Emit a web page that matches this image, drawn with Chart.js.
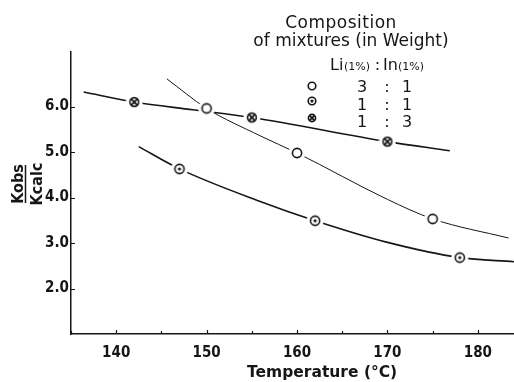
<!DOCTYPE html>
<html>
<head>
<meta charset="utf-8">
<script src="https://cdn.jsdelivr.net/npm/chart.js@4/dist/chart.umd.min.js"></script>
<style>
  html, body { margin: 0; padding: 0; background: #fff; }
  #wrap { width: 514px; height: 382px; }
</style>
</head>
<body>
<div id="wrap"><canvas id="chart" width="514" height="382"></canvas></div>
<script>
// measured points, K_obs / K_calc against temperature (deg C)
const temps31 = [150, 160, 175];
const ratio31 = [5.96, 4.98, 3.53];
const temps11 = [147, 162, 178];
const ratio11 = [4.63, 3.49, 2.68];
const temps13 = [142, 155, 170];
const ratio13 = [6.10, 5.76, 5.23];

// hand-drawn fitted curves
const curve31T = [145.6, 150, 155.9, 160, 170, 175, 183.4];
const curve31K = [6.61, 5.96, 5.36, 4.98, 3.96, 3.53, 3.11];
const curve11T = [142.5, 147, 155.7, 162, 169.9, 178, 184];
const curve11K = [5.12, 4.63, 3.93, 3.49, 3.02, 2.68, 2.59];
const curve13T = [136.4, 142, 148.5, 155, 170, 176.9];
const curve13K = [6.32, 6.10, 5.93, 5.76, 5.23, 5.03];

const xTicks = [135, 140, 145, 150, 155, 160, 165, 170, 175, 180];
const yTicks = [2, 3, 4, 5, 6];

const legendRows = [
  { kind: 'open', li: '3', inn: '1' },
  { kind: 'dot', li: '1', inn: '1' },
  { kind: 'cross', li: '1', inn: '3' }
];

const INK = '#161616';
const NARROW = "'DejaVu Sans Condensed', 'DejaVu Sans', sans-serif";
const WIDE = "'DejaVu Sans', sans-serif";

function pts(xs, ys) {
  return xs.map((x, i) => ({ x: x, y: ys[i] }));
}

// marker image; halo is a white disc that breaks the curves around the symbol
function makeMarker(kind, r, halo) {
  const size = 2 * Math.ceil(halo || r + 2);
  const c = document.createElement('canvas');
  c.width = c.height = size;
  const g = c.getContext('2d');
  const m = size / 2;
  if (halo) {
    g.fillStyle = '#fff';
    g.beginPath(); g.arc(m, m, halo, 0, 2 * Math.PI); g.fill();
  }
  g.strokeStyle = INK;
  g.fillStyle = '#fff';
  g.lineWidth = 1.6;
  g.beginPath(); g.arc(m, m, r, 0, 2 * Math.PI); g.fill(); g.stroke();
  if (kind === 'dot') {
    g.fillStyle = INK;
    g.beginPath(); g.arc(m, m, 1.6, 0, 2 * Math.PI); g.fill();
  }
  if (kind === 'cross') {
    const d = r * 0.75;
    g.lineWidth = 1.8;
    g.beginPath();
    g.moveTo(m - d, m - d); g.lineTo(m + d, m + d);
    g.moveTo(m + d, m - d); g.lineTo(m - d, m + d);
    g.stroke();
  }
  return c;
}

const plotMarks = {
  open: makeMarker('open', 4.6, 8.5),
  dot: makeMarker('dot', 4.6, 8.5),
  cross: makeMarker('cross', 4.4, 8.5)
};
const keyMarks = {
  open: makeMarker('open', 3.8, 0),
  dot: makeMarker('dot', 3.8, 0),
  cross: makeMarker('cross', 3.6, 0)
};

function curve(xs, ys, width) {
  return {
    data: pts(xs, ys),
    borderColor: INK,
    borderWidth: width,
    pointRadius: 0,
    tension: 0.4,
    cubicInterpolationMode: 'monotone',
    order: 2
  };
}

function marks(xs, ys, kind) {
  return {
    data: pts(xs, ys),
    showLine: false,
    pointStyle: plotMarks[kind],
    pointRadius: 8,
    order: 1
  };
}

const decorations = {
  id: 'decorations',
  afterDraw(chart) {
    const ctx = chart.ctx;
    const xs = chart.scales.x;
    const ys = chart.scales.y;
    const area = chart.chartArea;
    ctx.save();
    ctx.strokeStyle = INK;
    ctx.fillStyle = INK;
    ctx.lineWidth = 1.2;

    // inward tick marks
    ctx.beginPath();
    xTicks.forEach(v => {
      const px = Math.round(xs.getPixelForValue(v)) + 0.5;
      const len = v % 10 === 0 ? 4 : 3;
      ctx.moveTo(px, area.bottom);
      ctx.lineTo(px, area.bottom - len);
    });
    yTicks.forEach(v => {
      const py = Math.round(ys.getPixelForValue(v)) + 0.5;
      ctx.moveTo(area.left, py);
      ctx.lineTo(area.left + 4, py);
    });
    ctx.stroke();

    // x axis title
    ctx.font = 'bold 15.5px ' + WIDE;
    ctx.textAlign = 'left';
    ctx.textBaseline = 'alphabetic';
    ctx.fillText('Temperature (\u00b0C)', 247, 377);

    // y axis title as a fraction, rotated
    ctx.save();
    ctx.translate(0, 184);
    ctx.rotate(-Math.PI / 2);
    ctx.font = 'bold 16px ' + NARROW;
    ctx.textAlign = 'center';
    ctx.fillText('Kobs', 0, 23);
    ctx.fillText('Kcalc', 0, 42);
    ctx.lineWidth = 1.5;
    ctx.beginPath();
    ctx.moveTo(-19, 25.5);
    ctx.lineTo(19, 25.5);
    ctx.stroke();
    ctx.restore();

    // composition key
    ctx.font = '17px ' + WIDE;
    ctx.textAlign = 'center';
    if ('letterSpacing' in ctx) ctx.letterSpacing = '0.5px';
    ctx.fillText('Composition', 341, 28);
    if ('letterSpacing' in ctx) ctx.letterSpacing = '0px';
    ctx.fillText('of mixtures (in Weight)', 351, 46);

    ctx.textAlign = 'left';
    ctx.font = '16px ' + WIDE;
    ctx.fillText('Li', 330, 70);
    ctx.fillText('In', 383, 70);
    ctx.font = '11px ' + WIDE;
    ctx.fillText('(1%)', 344, 70);
    ctx.fillText('(1%)', 398, 70);
    ctx.font = '16px ' + WIDE;
    ctx.textAlign = 'center';
    ctx.fillText(':', 377.5, 70);

    const rowY = [92, 110, 127];
    const symY = [86, 101, 118];
    legendRows.forEach((row, i) => {
      const img = keyMarks[row.kind];
      ctx.drawImage(img, 312 - img.width / 2, symY[i] - img.height / 2);
      ctx.fillText(row.li, 362, rowY[i]);
      ctx.fillText(':', 387, rowY[i]);
      ctx.fillText(row.inn, 407, rowY[i]);
    });
    ctx.restore();
  }
};

new Chart(document.getElementById('chart'), {
  type: 'line',
  data: {
    datasets: [
      curve(curve31T, curve31K, 1),
      curve(curve11T, curve11K, 1.6),
      curve(curve13T, curve13K, 1.6),
      marks(temps31, ratio31, 'open'),
      marks(temps11, ratio11, 'dot'),
      marks(temps13, ratio13, 'cross')
    ]
  },
  plugins: [decorations],
  options: {
    responsive: false,
    animation: false,
    devicePixelRatio: 1,
    layout: { autoPadding: false, padding: { top: 52, right: 0, left: 0, bottom: 0 } },
    plugins: { legend: { display: false }, tooltip: { enabled: false } },
    scales: {
      x: {
        type: 'linear',
        min: 135,
        max: 184,
        afterFit: s => { s.height = 48; },
        afterBuildTicks: s => { s.ticks = xTicks.map(v => ({ value: v })); },
        grid: { display: false, drawTicks: false },
        border: { display: true, color: INK, width: 1.5 },
        ticks: {
          padding: 10,
          color: INK,
          font: { family: NARROW, size: 15, weight: 'bold' },
          maxRotation: 0,
          autoSkip: false,
          callback: v => (v % 10 === 0 ? String(v) : '')
        }
      },
      y: {
        type: 'linear',
        min: 1,
        max: 7.2,
        afterFit: s => { s.width = 71; },
        afterBuildTicks: s => { s.ticks = yTicks.map(v => ({ value: v })); },
        grid: { display: false, drawTicks: false },
        border: { display: true, color: INK, width: 1.5 },
        ticks: {
          padding: 2,
          color: INK,
          font: { family: NARROW, size: 15, weight: 'bold' },
          callback: v => v.toFixed(1)
        }
      }
    }
  }
});
</script>
</body>
</html>
